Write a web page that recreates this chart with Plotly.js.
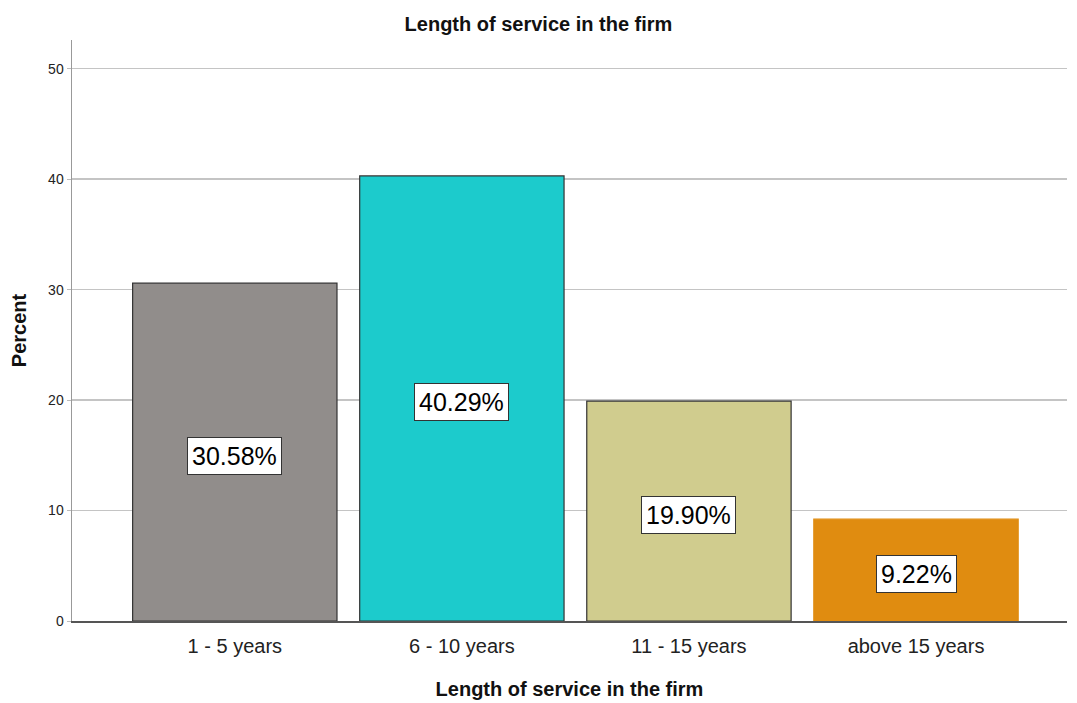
<!DOCTYPE html>
<html>
<head>
<meta charset="utf-8">
<script src="https://cdn.plot.ly/plotly-3.0.1.min.js"></script>
<style>body{margin:0;background:#fff}#chart{width:1077px;height:703px}</style>
</head>
<body>
<div id="chart"></div>
<script>
const categories = ["1 - 5 years", "6 - 10 years", "11 - 15 years", "above 15 years"];
const percents = [30.58, 40.29, 19.90, 9.22];
const labels = ["30.58%", "40.29%", "19.90%", "9.22%"];
const barColors = ["#918d8b", "#1ccbcc", "#d0cc8e", "#e08c10"];
const borderColors = ["#333333", "#333333", "#333333", "#e08c10"];
const yTicks = [0, 10, 20, 30, 40, 50];

const font = "Liberation Sans, Arial, sans-serif";

const trace = {
  type: "bar",
  x: categories,
  y: percents,
  marker: {color: barColors, line: {color: borderColors, width: 1.2}},
  hoverinfo: "none"
};

const annotations = categories.map((c, i) => ({
  x: c, y: percents[i] / 2, xref: "x", yref: "y",
  text: labels[i], showarrow: false,
  font: {family: font, size: 25, color: "#000"},
  bgcolor: "#ffffff", bordercolor: "#333333", borderwidth: 1, borderpad: 4,
  yshift: -4
}));

const layout = {
  width: 1077, height: 703,
  margin: {l: 72, r: 10, t: 40, b: 82},
  paper_bgcolor: "#fff", plot_bgcolor: "#fff",
  title: {text: "<b>Length of service in the firm</b>", font: {family: font, size: 20, color: "#111"}, x: 0.5, xanchor: "center", y: 0.966, yanchor: "middle"},
  bargap: 0.1,
  showlegend: false,
  xaxis: {
    range: [-0.717, 3.665],
    showgrid: false, zeroline: false,
    showline: true, linecolor: "#555", linewidth: 1.5,
    ticks: "", ticklabelstandoff: 6,
    tickfont: {family: font, size: 20, color: "#222"},
    title: {text: "<b>Length of service in the firm</b>", font: {family: font, size: 20, color: "#111"}, standoff: 26}
  },
  yaxis: {
    range: [0, 52.6],
    tickvals: yTicks,
    showgrid: true, gridcolor: "#c4c4c4", gridwidth: 1.5,
    zeroline: false,
    showline: true, linecolor: "#999", linewidth: 1.5,
    ticks: "outside", ticklen: 4, tickcolor: "#bbb",
    tickfont: {family: font, size: 14, color: "#222"},
    title: {text: "<b>Percent</b>", font: {family: font, size: 20, color: "#111"}, standoff: 16}
  },
  annotations: annotations
};

Plotly.newPlot("chart", [trace], layout, {displayModeBar: false, staticPlot: true});
</script>
</body>
</html>
